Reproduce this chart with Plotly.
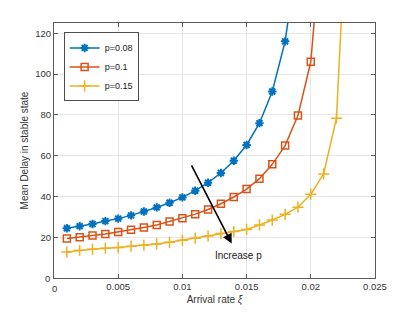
import plotly.graph_objects as go

# Data
x_p008 = [0.001, 0.002, 0.003, 0.004, 0.005, 0.006, 0.007, 0.008, 0.009, 0.010,
          0.011, 0.012, 0.013, 0.014, 0.015, 0.016, 0.017, 0.018, 0.019]
y_p008 = [24.4, 25.4, 26.5, 27.9, 29.1, 30.7, 32.6, 34.6, 36.9, 39.5,
          42.8, 46.7, 51.5, 57.5, 65.2, 75.9, 91.4, 116.0, 160.0]

x_p01 = [0.001, 0.002, 0.003, 0.004, 0.005, 0.006, 0.007, 0.008, 0.009, 0.010,
         0.011, 0.012, 0.013, 0.014, 0.015, 0.016, 0.017, 0.018, 0.019, 0.020, 0.021]
y_p01 = [19.4, 20.0, 20.8, 21.6, 22.6, 23.6, 24.8, 26.0, 27.7, 29.3,
         31.3, 33.6, 36.4, 39.7, 43.6, 48.7, 55.7, 64.9, 79.6, 106.0, 180.0]

x_p015 = [0.001, 0.002, 0.003, 0.004, 0.005, 0.006, 0.007, 0.008, 0.009, 0.010,
          0.011, 0.012, 0.013, 0.014, 0.015, 0.016, 0.017, 0.018, 0.019, 0.020,
          0.021, 0.022, 0.023]
y_p015 = [12.8, 13.6, 14.1, 14.6, 14.9, 15.6, 16.1, 16.7, 17.5, 18.5,
          19.5, 20.6, 21.8, 22.8, 23.8, 26.0, 28.4, 31.2, 34.7, 41.1,
          51.0, 78.3, 206.0]

series_names = ["p=0.08", "p=0.1", "p=0.15"]
x_ticks = [0, 0.005, 0.01, 0.015, 0.02, 0.025]
x_tick_labels = ["0", "0.005", "0.01", "0.015", "0.02", "0.025"]
y_ticks = [0, 20, 40, 60, 80, 100, 120]
y_tick_labels = ["0", "20", "40", "60", "80", "100", "120"]
x_range = [0, 0.025]
y_range = [0, 125]

arrow_start = (0.01065, 56.0)
arrow_end = (0.01384, 16.9)
arrow_label_pos = (0.01435, 10.8)

FONT = "Liberation Sans, Arial, Helvetica, sans-serif"
AX = "#5a5a5a"
TICK_FONT = dict(family=FONT, size=9.5, color="#333333")

fig = go.Figure()
fig.add_trace(go.Scatter(
    x=x_p008, y=y_p008, name=series_names[0], mode="lines+markers",
    line=dict(color="#0072BD", width=1.5),
    marker=dict(symbol="asterisk-open", size=7, line=dict(color="#0072BD", width=2))))
fig.add_trace(go.Scatter(
    x=x_p01, y=y_p01, name=series_names[1], mode="lines+markers",
    line=dict(color="#D95319", width=1.5),
    marker=dict(symbol="square-open", size=7, line=dict(color="#D95319", width=1.5))))
fig.add_trace(go.Scatter(
    x=x_p015, y=y_p015, name=series_names[2], mode="lines+markers",
    line=dict(color="#EDB120", width=1.5),
    marker=dict(symbol="cross-thin-open", size=8, line=dict(color="#EDB120", width=1.5))))

fig.add_annotation(
    x=arrow_end[0], y=arrow_end[1], ax=arrow_start[0], ay=arrow_start[1],
    xref="x", yref="y", axref="x", ayref="y",
    showarrow=True, arrowhead=2, arrowsize=1.2, arrowwidth=1.6, arrowcolor="black", text="")
fig.add_annotation(
    x=arrow_label_pos[0], y=arrow_label_pos[1], xref="x", yref="y",
    text="Increase p", showarrow=False, font=dict(family=FONT, size=10, color="#1a1a1a"))

# corner "0" labels at the axes' origin corner (ranges start at 0)
fig.add_annotation(x=0, y=0, xref="paper", yref="paper", text=x_tick_labels[0],
                   showarrow=False, xanchor="center", yanchor="top", yshift=-3, font=TICK_FONT)
fig.add_annotation(x=0, y=0, xref="paper", yref="paper", text=y_tick_labels[0],
                   showarrow=False, xanchor="right", yanchor="middle", xshift=-2, font=TICK_FONT)
x_axis_text = [""] + x_tick_labels[1:]
y_axis_text = [""] + y_tick_labels[1:]

fig.update_layout(
    width=415, height=312, autosize=False,
    margin=dict(l=46, r=48, t=15, b=42),
    plot_bgcolor="white", paper_bgcolor="white",
    font=dict(family=FONT, size=10, color="#262626"),
    showlegend=True,
    legend=dict(x=0.03, y=0.963, xanchor="left", yanchor="top",
                bgcolor="white", bordercolor="#4d4d4d", borderwidth=1,
                font=dict(family=FONT, size=9, color="#1a1a1a"),
                tracegroupgap=0, itemwidth=30),
    xaxis=dict(
        range=x_range, tickvals=x_ticks, ticktext=x_axis_text, automargin=False,
        showgrid=True, gridcolor="#e6e6e6", gridwidth=1, zeroline=False,
        showline=True, linecolor=AX, linewidth=1, mirror="ticks",
        ticks="inside", ticklen=4, tickcolor=AX,
        tickfont=TICK_FONT,
        title=dict(text="Arrival rate <i>ξ</i>", font=dict(family=FONT, size=10, color="#333333"), standoff=4),
    ),
    yaxis=dict(
        range=y_range, tickvals=y_ticks, ticktext=y_axis_text, automargin=False,
        showgrid=True, gridcolor="#e6e6e6", gridwidth=1, zeroline=False,
        showline=True, linecolor=AX, linewidth=1, mirror="ticks",
        ticks="inside", ticklen=4, tickcolor=AX,
        tickfont=TICK_FONT,
        title=dict(text="Mean Delay in stable state", font=dict(family=FONT, size=10, color="#333333"), standoff=4),
    ),
)

fig.write_html("out.html")
